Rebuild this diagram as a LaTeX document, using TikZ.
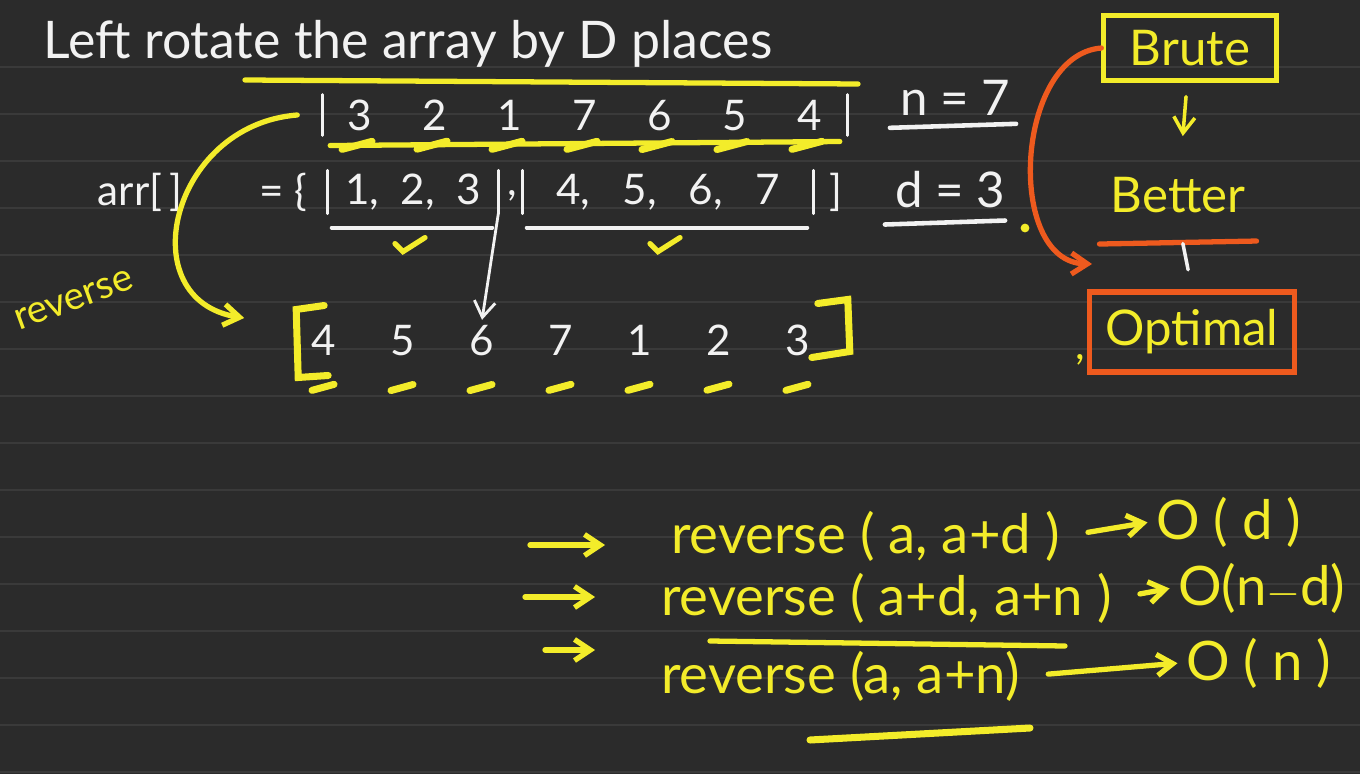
\documentclass[tikz,border=0pt]{standalone}
\usepackage{fontspec}
\setmainfont{Lato}
\usetikzlibrary{arrows.meta, positioning, calc, matrix}
\definecolor{cBOARD}{HTML}{2B2B2B}
\definecolor{cRULE}{HTML}{3A3A3A}
\definecolor{cINK}{HTML}{F2F2F2}
\definecolor{cHI}{HTML}{F3EC2A}
\definecolor{cORG}{HTML}{EE5A1E}

\begin{document}
\begin{tikzpicture}[x=0.02cm, y=-0.02cm,
  ink/.style={text=cINK, font=\fontsize{24}{28}\selectfont},
  hi/.style={text=cHI, font=\fontsize{24}{28}\selectfont},
  big/.style={font=\fontsize{28}{32}\selectfont},
  huge/.style={font=\fontsize{31}{36}\selectfont},
  wline/.style={draw=cINK, line width=1.6pt, line cap=round},
  yline/.style={draw=cHI, line width=3pt, line cap=round},
  oline/.style={draw=cORG, line width=3pt, line cap=round},
  barb/.style={-{Straight Barb[length=9pt, width=12pt]}},
]
\useasboundingbox (0,0) rectangle (1360,774);
% board and ruling
\fill[cBOARD] (0,0) rectangle (1360,774);
\foreach \y in {67,114,...,772}
  \draw[cRULE, line width=0.8pt] (0,\y) -- (1360,\y);

% title
\node[ink, font=\fontsize{29.5}{34}\selectfont] (title) at (408,44) {Left rotate the array by D places};
\draw[yline] (245,80) -- (858,84);

% rotated result on top
\matrix (top) [matrix of nodes, inner sep=0pt, column sep=0pt,
  nodes={ink, minimum width=1.5cm, minimum height=0.8cm, inner sep=0pt}] at (585,115) {
  3 & 2 & 1 & 7 & 6 & 5 & 4 \\
};
\draw[wline] (top.north west) -- (top.south west);
\draw[wline] (top.north east) -- (top.south east);
\draw[yline] ($(top.south west)+(8,10)$) -- ($(top.south east)+(-8,6)$);
\foreach \i in {1,...,7}
  \draw[yline, line width=4pt] ($(top-1-\i.south)+(-18,14)$) -- ++(30,-8);

% the given array
\node[ink] (arr) at (140,192) {arr[\,]};
\node[ink] (eqb) at (283,192) {= \{};
\node[ink, minimum width=3.4cm, minimum height=0.85cm, inner sep=0pt] (grp1) at (413,192) {1,\ \ 2,\ \ 3};
\node[ink] (sep) at (512,196) {,};
\node[ink, minimum width=5.8cm, minimum height=0.85cm, inner sep=0pt] (grp2) at (668,192) {4,\ \ \ 5,\ \ \ 6,\ \ \ 7};
\node[ink] (cls) at (836,192) {]};
\foreach \g in {grp1,grp2} {
  \draw[wline] (\g.north west) -- (\g.south west);
  \draw[wline] (\g.north east) -- (\g.south east);
  \draw[wline, line width=2.2pt] ($(\g.south west)+(4,14)$) -- ($(\g.south east)+(-6,14)$);
  \draw[yline] ($(\g.south)+(-18,30)$) -- ++(8,8) -- ++(22,-14);
}

% result after rotation
\matrix (bot) [matrix of nodes, inner sep=0pt, column sep=0pt,
  nodes={ink, minimum width=1.58cm, minimum height=0.8cm, inner sep=0pt}] at (561,340) {
  4 & 5 & 6 & 7 & 1 & 2 & 3 \\
};
\draw[yline, line width=4pt] ($(bot.north west)+(40,-14)$) -- ++(-28,4) -- ++(2,68) -- ++(30,-2);
\draw[yline, line width=4pt] ($(bot.north east)+(-20,-16)$) -- ++(30,-4) -- ++(2,52) -- ++(-38,6);
\foreach \i in {1,...,7}
  \draw[yline, line width=4pt] ($(bot-1-\i.south)+(-12,30)$) -- ++(22,-6);
\draw[wline, barb] (grp1.south east) -- (bot-1-3.north);

% reverse arc
\coordinate (revend) at ($(bot.west)+(-40,-22)$);
\draw[yline, barb] ($(top.west)+(-25,0)$) .. controls (170,125) and (130,300) .. (revend);
\node[hi, rotate=20, font=\fontsize{22}{26}\selectfont, inner sep=1pt] (revlbl) at (74,300) {reverse};

% sizes
\node[ink, big] (nval) at (955,98) {n = 7};
\draw[wline, line width=2.6pt] ($(nval.south west)+(-4,6)$) -- ($(nval.south east)+(0,2)$);
\node[ink, big] (dval) at (950,190) {d = 3};
\draw[wline, line width=2.6pt] ($(dval.south west)+(-4,10)$) -- ($(dval.south east)+(-6,6)$);
\fill[cHI] (1025,228) circle (2.5pt);

% approaches
\node[hi, big, draw=cHI, line width=2.5pt, minimum width=3.46cm, minimum height=1.3cm] (brute) at (1190,48) {Brute};
\node[hi, big] (better) at (1178,195) {Better};
\node[hi, big, draw=cORG, line width=3pt, minimum width=4.1cm, minimum height=1.6cm] (opt) at (1192,332) {Optimal};
\draw[yline, line width=2pt, barb, shorten <=0.28cm, shorten >=0.7cm] (brute) -- (better);
\draw[oline] ($(better.south west)+(-5,25)$) -- ($(better.south east)+(5,22)$);
\draw[wline, line width=2pt, shorten <=0.5cm, shorten >=0.4cm] (better.south) -- (opt.north);
\node[hi] (cma) at (1080,360) {,};
\coordinate (optarr) at (1092,264);
\draw[oline, barb] (brute.west) .. controls (1015,55) and (1005,262) .. (optarr);

% three reversals
\node[hi, huge, anchor=west] (rev1) at (665,536) {reverse ( a, a+d )};
\node[hi, huge, anchor=west] (cx1) at (1150,522) {O ( d )};
\node[hi, huge, anchor=west] (rev2) at (655,598) {reverse ( a+d, a+n )};
\node[hi, huge, anchor=west] (cx2) at (1172,588) {O(n$-$d)};
\node[hi, huge, anchor=west] (rev3) at (655,676) {reverse (a, a+n)};
\node[hi, huge, anchor=west] (cx3) at (1180,663) {O ( n )};
\coordinate (l1) at (530,545);
\coordinate (l2) at (525,597);
\coordinate (l3) at (545,650);
\foreach \a/\r in {l1/rev1, l2/rev2, l3/rev3}
  \draw[yline, barb, shorten >=1.2cm] (\a) -- (\r.west |- \a);
\foreach \r/\c in {rev1/cx1, rev2/cx2, rev3/cx3}
  \draw[yline, barb, shorten <=0.45cm, shorten >=0.05cm] (\r.east) -- (\c.west);
\draw[yline] (710,641) -- (1065,646);
\draw[yline, line width=4pt] (810,740) -- (1030,728);
\end{tikzpicture}
\end{document}
